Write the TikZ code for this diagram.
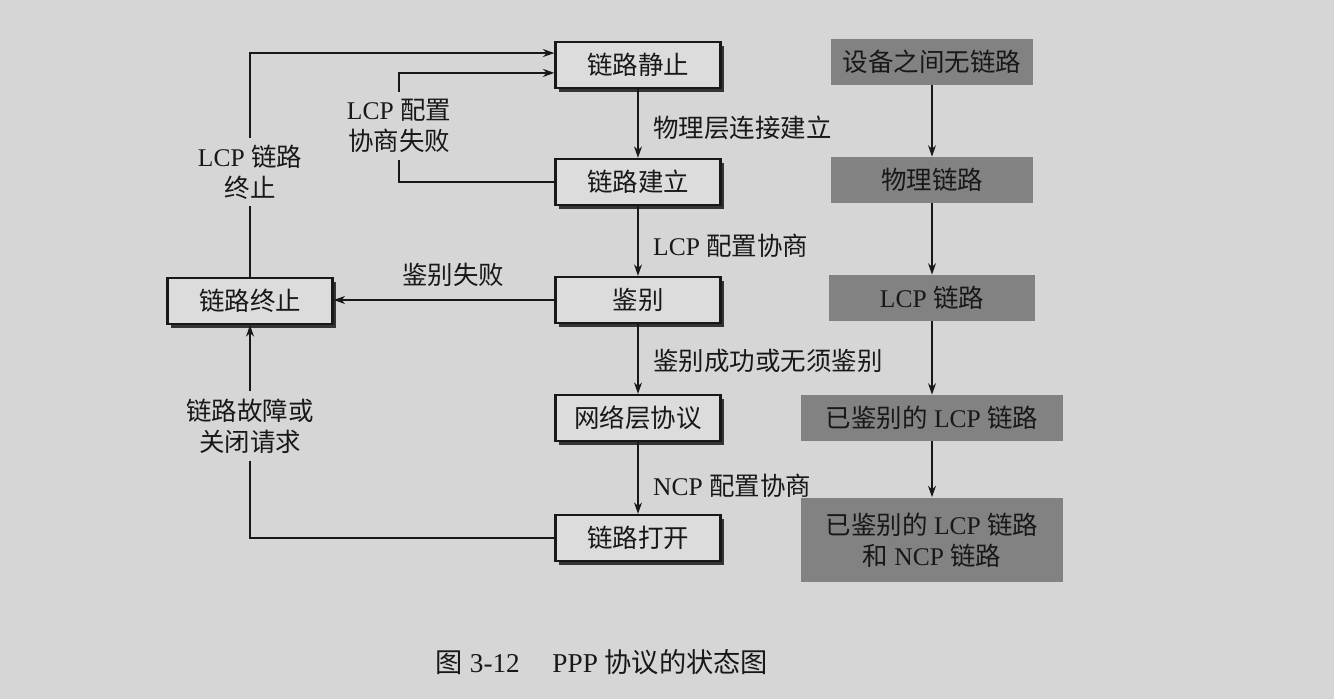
\documentclass[tikz,border=0pt]{standalone}
\usepackage{fontspec}
\setmainfont{Liberation Serif}
\newfontfamily\cjk{Noto Sans CJK SC}
\usetikzlibrary{arrows.meta,shadows}
\definecolor{paper}{HTML}{D6D6D6}
\definecolor{boxgray}{HTML}{828282}
\definecolor{ink}{HTML}{181818}

\begin{document}
\begin{tikzpicture}[x=0.02cm,y=-0.02cm,
	every node/.style={font=\fontsize{14.5}{17.5}\selectfont, text=ink},
	state/.style={draw=ink, line width=1.3pt, fill=paper!85!white, minimum width=3.3cm, minimum height=0.92cm,
		drop shadow={shadow xshift=2pt, shadow yshift=-2pt, fill=ink, opacity=0.85}},
	phase/.style={fill=boxgray, minimum height=0.92cm, align=center},
	tag/.style={align=center, inner sep=4pt},
	ln/.style={draw=ink, line width=1.3pt},
	arr/.style={ln, -{Stealth[length=6.5pt,width=4.5pt]}}]

	\fill[paper] (0,0) rectangle (1334,699);

	\node[state] (jz) at (638,65) {\cjk 链路静止};
	\node[state] (jl) at (638,182) {\cjk 链路建立};
	\node[state] (jb) at (638,300) {\cjk 鉴别};
	\node[state] (wl) at (638,418) {\cjk 网络层协议};
	\node[state] (dk) at (638,538) {\cjk 链路打开};
	\node[state] (zz) at (250,301) {\cjk 链路终止};

	\node[anchor=west] (t1) at (647,128) {\cjk 物理层连接建立};
	\node[anchor=west] (t2) at (647,246) {LCP {\cjk 配置协商}};
	\node[anchor=west] (t3) at (647,361) {\cjk 鉴别成功或无须鉴别};
	\node[anchor=west] (t4) at (647,486) {NCP {\cjk 配置协商}};
	\node (t5) at (453,275) {\cjk 鉴别失败};
	\node[tag] (lb1) at (250,172) {LCP {\cjk 链路}\\{\cjk 终止}};
	\node[tag] (lb2) at (399,126) {LCP {\cjk 配置}\\{\cjk 协商失败}};
	\node[tag] (lb4) at (250,426) {{\cjk 链路故障或}\\{\cjk 关闭请求}};

	\draw[arr] (jz) -- (jl);
	\draw[arr] (jl) -- (jb);
	\draw[arr] (jb) -- (wl);
	\draw[arr] (wl) -- (dk);
	\draw[arr] (jb.west) -- (jb.west -| zz.east);
	\draw[ln] (dk.west) -| (lb4.south);
	\draw[arr] (lb4.north) -- (zz.south);
	\draw[ln] (zz.north) -- (lb1.south);
	\draw[arr] (lb1.north) |- ([yshift=6.8pt]jz.west);
	\draw[ln] (jl.west) -| (lb2.south);
	\draw[arr] (lb2.north) |- ([yshift=-4.5pt]jz.west);

	\node[phase, minimum width=4.04cm] (r1) at (932,62) {\cjk 设备之间无链路};
	\node[phase, minimum width=4.06cm] (r2) at (932,180) {\cjk 物理链路};
	\node[phase, minimum width=4.12cm] (r3) at (932,298) {LCP {\cjk 链路}};
	\node[phase, minimum width=5.26cm] (r4) at (932,418) {{\cjk 已鉴别的} LCP {\cjk 链路}};
	\node[phase, minimum width=5.26cm, minimum height=1.7cm] (r5) at (932,540) {{\cjk 已鉴别的} LCP {\cjk 链路}\\{\cjk 和} NCP {\cjk 链路}};

	\draw[arr] (r1) -- (r2);
	\draw[arr] (r2) -- (r3);
	\draw[arr] (r3) -- (r4);
	\draw[arr] (r4) -- (r5);

	\node[font=\fontsize{15.5}{18}\selectfont] (cap) at (602,662) {{\cjk 图} 3-12\hspace{1.2em}PPP {\cjk 协议的状态图}};
\end{tikzpicture}
\end{document}
